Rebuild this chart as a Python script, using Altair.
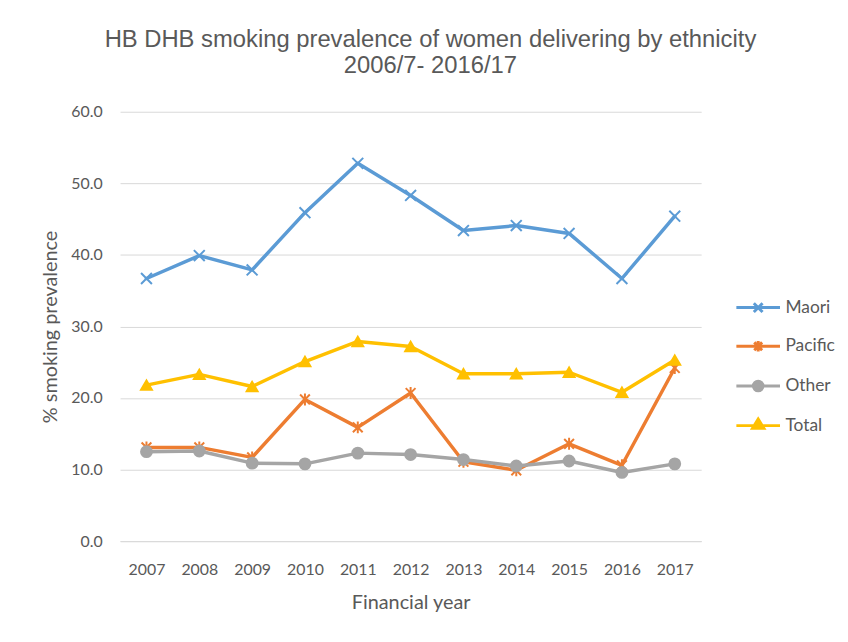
import altair as alt
import pandas as pd

years = ["2007", "2008", "2009", "2010", "2011", "2012", "2013", "2014", "2015", "2016", "2017"]
maori = [36.7, 39.9, 37.9, 45.9, 52.8, 48.3, 43.4, 44.1, 43.0, 36.7, 45.4]
pacific = [13.1, 13.1, 11.7, 19.8, 15.9, 20.7, 11.1, 9.9, 13.6, 10.6, 24.2]
other = [12.5, 12.6, 10.9, 10.8, 12.3, 12.1, 11.4, 10.5, 11.2, 9.6, 10.8]
total = [21.8, 23.3, 21.6, 25.1, 27.9, 27.2, 23.4, 23.4, 23.6, 20.8, 25.3]

series_names = ["Maori", "Pacific", "Other", "Total"]
series_values = [maori, pacific, other, total]
colors = ["#5B9BD5", "#ED7D31", "#A5A5A5", "#FFC000"]

# marker shapes for the plot
marker_shapes = [
    "M-1,-1L1,1M-1,1L1,-1",
    "M-0.9,-0.9L0.9,0.9M-0.9,0.9L0.9,-0.9M0,-1.1L0,1.1",
    "circle",
    "triangle-up",
]
# legend symbols: line segment with marker in the middle
legend_shapes = [
    "M-1,0L1,0M-0.2,-0.2L0.2,0.2M-0.2,0.2L0.2,-0.2",
    "M-1,0L1,0M-0.18,-0.18L0.18,0.18M-0.18,0.18L0.18,-0.18M0,-0.24L0,0.24",
    "M-1,0L1,0M-0.22,0A0.22,0.22,0,1,1,0.22,0A0.22,0.22,0,1,1,-0.22,0Z",
    "M0,-0.3L0.26,0.12L-0.26,0.12Z M-1,0L1,0",
]

rows = []
for name, vals in zip(series_names, series_values):
    for y, v in zip(years, vals):
        rows.append({"year": y, "series": name, "value": v})
df = pd.DataFrame(rows)

GRAY = "#595959"
FONT = "Lato"

x_enc = alt.X(
    "year:O",
    sort=years,
    scale=alt.Scale(type="point", padding=0.5),
    axis=alt.Axis(
        title="Financial year",
        labelAngle=0,
        ticks=False,
        domain=True,
        domainColor="#D9D9D9",
        domainWidth=1,
        grid=False,
        labelPadding=21,
        titlePadding=15,
    ),
)
y_enc = alt.Y(
    "value:Q",
    scale=alt.Scale(domain=[0, 60], nice=False),
    axis=alt.Axis(
        title="% smoking prevalence",
        values=[0, 10, 20, 30, 40, 50, 60],
        format=".1f",
        ticks=False,
        domain=False,
        grid=True,
        gridColor="#D9D9D9",
        gridWidth=1,
        labelPadding=18,
        titlePadding=10,
    ),
)
color_scale = alt.Scale(domain=series_names, range=colors)

lines = alt.Chart(df).mark_line(strokeWidth=3.5, strokeJoin="round", strokeCap="round").encode(
    x=x_enc,
    y=y_enc,
    color=alt.Color("series:N", scale=color_scale, legend=None),
    order=alt.Order("year:O"),
)

points = alt.Chart(df).mark_point(filled=False, opacity=1, size=120, strokeWidth=2).encode(
    x=x_enc,
    y=y_enc,
    color=alt.Color("series:N", scale=color_scale, legend=None),
    fill=alt.Fill("series:N", scale=alt.Scale(domain=series_names, range=colors), legend=None),
    shape=alt.Shape("series:N", scale=alt.Scale(domain=series_names, range=marker_shapes), legend=None),
)

legend_layer = alt.Chart(df).mark_point(opacity=0, size=110).encode(
    x=x_enc,
    y=y_enc,
    fill=alt.Fill("series:N", scale=alt.Scale(domain=series_names, range=colors), title=None),
    stroke=alt.Stroke("series:N", scale=alt.Scale(domain=series_names, range=colors), title=None),
    shape=alt.Shape("series:N", scale=alt.Scale(domain=series_names, range=legend_shapes), title=None),
)

chart = (
    alt.layer(lines, points, legend_layer)
    .resolve_scale(shape="independent", fill="independent", stroke="independent")
    .resolve_legend(shape="independent", fill="independent", stroke="independent", color="independent")
    .properties(
        width=586,
        height=433,
        autosize=alt.AutoSizeParams(type="none"),
        padding={"left": 113, "top": 102, "right": 140, "bottom": 90},
        title=alt.TitleParams(
            text=["HB DHB  smoking prevalence of women delivering by ethnicity", "2006/7- 2016/17"],
            anchor="middle",
            frame="group",
            dx=20,
            offset=26,
            font="Liberation Sans",
            fontSize=24,
            fontWeight="normal",
            color=GRAY,
            lineHeight=26,
        ),
    )
    .configure_view(stroke=None)
    .configure_axis(
        labelFont=FONT,
        labelFontSize=16,
        labelColor=GRAY,
        titleFont=FONT,
        titleFontSize=20,
        titleColor=GRAY,
        titleFontWeight="normal",
    )
    .configure_legend(
        orient="none",
        legendX=620,
        legendY=174,
        symbolSize=1936,
        symbolStrokeWidth=3,
        symbolOpacity=1,
        labelFont=FONT,
        labelFontSize=17.5,
        labelColor=GRAY,
        rowPadding=5,
        padding=0,
        labelOffset=4,
    )
)

chart.save("out.html", embed_options={"renderer": "svg", "actions": False})
